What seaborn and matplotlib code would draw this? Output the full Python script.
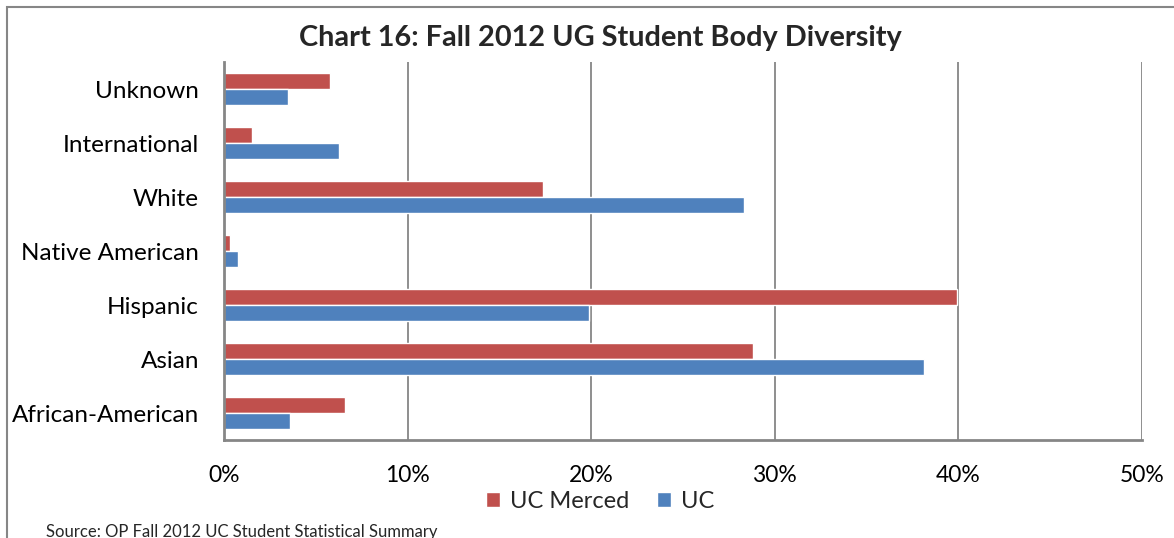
import matplotlib
matplotlib.use("Agg")
import matplotlib.pyplot as plt
from matplotlib.patches import Rectangle
from matplotlib.ticker import PercentFormatter
import numpy as np
import pandas as pd
import seaborn as sns

categories = ['Unknown', 'International', 'White', 'Native American',
              'Hispanic', 'Asian', 'African-American']
uc_merced = [5.8, 1.55, 17.35, 0.3, 39.9, 28.8, 6.6]
uc = [3.5, 6.25, 28.3, 0.74, 19.9, 38.1, 3.6]
series = ['UC Merced', 'UC']
x_ticks = [0, 10, 20, 30, 40, 50]

df = pd.DataFrame({
    'category': categories * 2,
    'series': ['UC Merced'] * len(categories) + ['UC'] * len(categories),
    'value': uc_merced + uc,
})

sns.set_theme(style='white')
plt.rcParams['font.family'] = ['Lato', 'DejaVu Sans']

grey = '#868686'
fig = plt.figure(figsize=(11.74, 5.38), dpi=100)
ax = fig.add_axes([224 / 1174, 1 - 440 / 538, (1142 - 224) / 1174, (440 - 62) / 538])

sns.barplot(data=df, y='category', x='value', hue='series', order=categories,
            hue_order=series, palette=['#C0504D', '#4F81BD'], width=0.58,
            orient='h', saturation=1, ax=ax, legend=True)

ax.set_xlim(0, 50)
ax.set_ylim(len(categories) - 0.5, -0.5)
ax.set_xticks(x_ticks)
ax.xaxis.set_major_formatter(PercentFormatter(decimals=0))
ax.set_xlabel('')
ax.set_ylabel('')
ax.grid(axis='x', color=grey, lw=1.3)
ax.set_axisbelow(True)
for s in ['top', 'right']:
    ax.spines[s].set_visible(False)
for s in ['left', 'bottom']:
    ax.spines[s].set_color(grey)
    ax.spines[s].set_linewidth(2)

ax.tick_params(axis='x', length=7, width=1.3, color=grey, pad=11, labelsize=16.5)
ax.tick_params(axis='y', which='major', length=0, pad=18, labelsize=17.5)
ax.set_yticks(np.arange(-0.5, len(categories)), minor=True)
ax.tick_params(axis='y', which='minor', length=7, width=2, color=grey, direction='out')
ax.tick_params(axis='both', labelcolor='black')

ax.legend(loc='center', bbox_to_anchor=(600 / 1174, 1 - 501 / 538),
          bbox_transform=fig.transFigure, ncol=2, frameon=False, fontsize=17,
          handlelength=0.6, handleheight=0.6, handletextpad=0.4, columnspacing=1.2,
          borderpad=0, borderaxespad=0)

fig.text(600 / 1174, 1 - 38 / 538, 'Chart 16: Fall 2012 UG Student Body Diversity',
         ha='center', va='center', fontsize=20.8, fontweight='bold')
fig.text(46 / 1174, 1 - 532 / 538, 'Source: OP Fall 2012 UC Student Statistical Summary',
         ha='left', va='center', fontsize=12)

fig.patches.append(Rectangle((7 / 1174, -0.1), 1.2, 1 - 7 / 538 + 0.1,
                             transform=fig.transFigure, fill=False,
                             edgecolor=grey, lw=1.5))

fig.savefig('out.png', dpi=100)
